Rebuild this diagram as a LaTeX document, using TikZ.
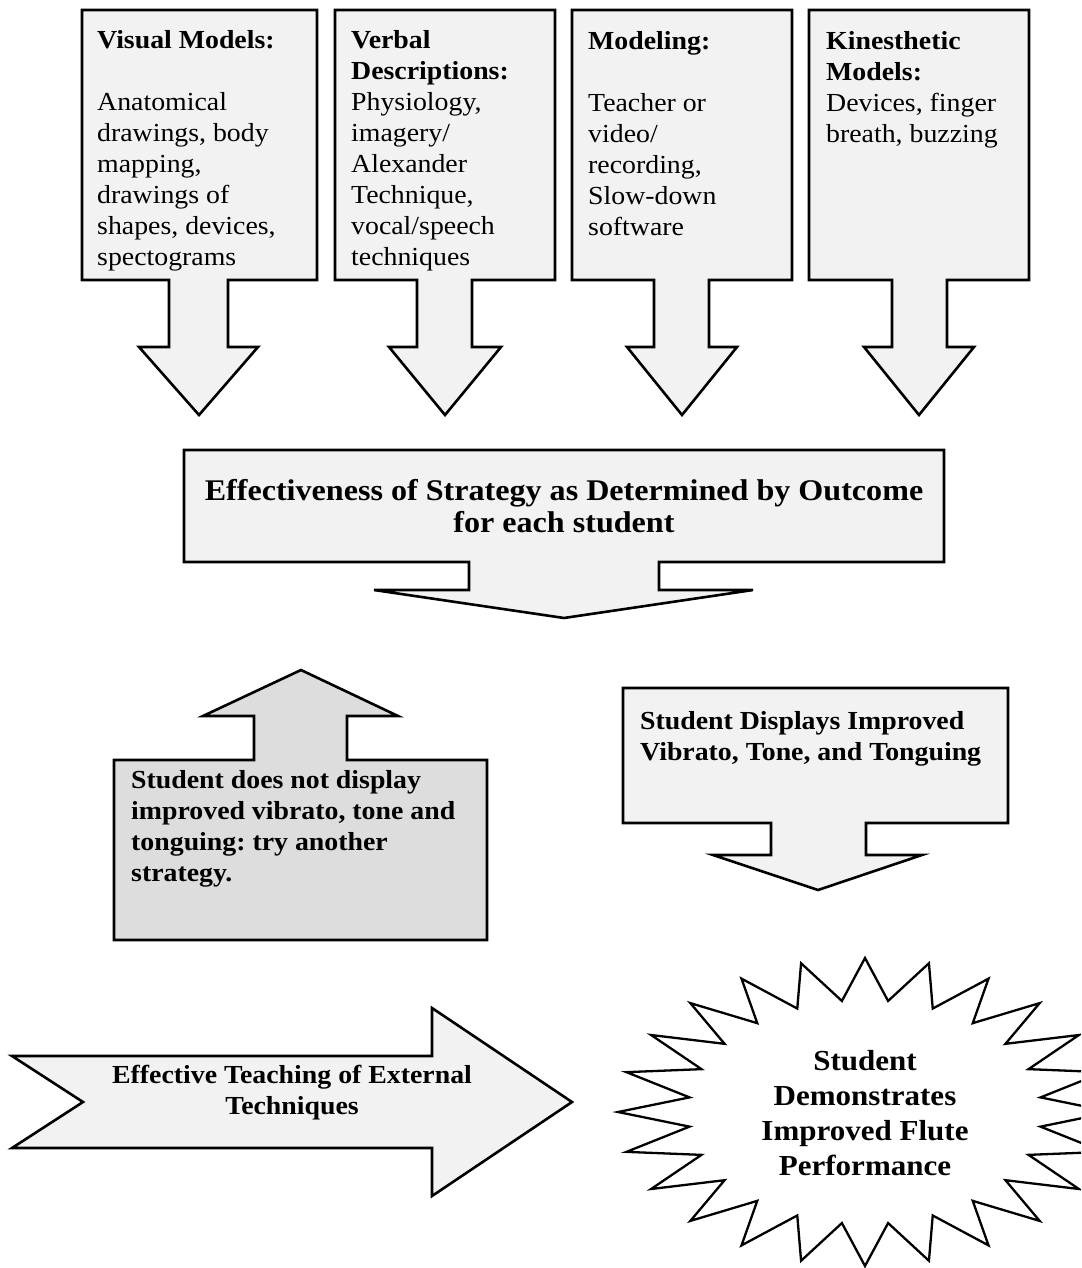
\documentclass[tikz,border=0pt]{standalone}
\usepackage{fontspec}
\setmainfont{Liberation Serif}[FakeStretch=1.07]
\frenchspacing
\definecolor{lightfill}{HTML}{F2F2F2}
\definecolor{darkfill}{HTML}{DDDDDD}
\tikzset{
  callout/.style={draw=black, line width=2.6pt, fill=lightfill, line join=miter},
  darkcallout/.style={callout, fill=darkfill},
  burst/.style={draw=black, line width=2.3pt, fill=white, line join=miter},
  bodytext/.style={inner sep=0pt, anchor=base west, font=\fontsize{26}{31}\selectfont},
  ctext/.style={inner sep=0pt, align=center, font=\bfseries\fontsize{26}{31}\selectfont},
}
\begin{document}
\begin{tikzpicture}[x=1pt, y=-1pt]
\useasboundingbox (0,0) rectangle (1081,1268);
\clip (0,0) rectangle (1081,1268);

% ---- top four callouts ----
\draw[callout] (82,10) -- (317,10) -- (317,280) -- (228,280) -- (228,347) -- (258,347)
  -- (199,415) -- (139,347) -- (169,347) -- (169,280) -- (82,280) -- cycle;
\draw[callout] (335,10) -- (555,10) -- (555,280) -- (472,280) -- (472,347) -- (501,347)
  -- (445,415) -- (389,347) -- (417,347) -- (417,280) -- (335,280) -- cycle;
\draw[callout] (572,10) -- (792,10) -- (792,280) -- (709,280) -- (709,347) -- (737,347)
  -- (682,415) -- (627,347) -- (654,347) -- (654,280) -- (572,280) -- cycle;
\draw[callout] (809,10) -- (1029,10) -- (1029,280) -- (947,280) -- (947,347) -- (974,347)
  -- (919,415) -- (864,347) -- (892,347) -- (892,280) -- (809,280) -- cycle;

\node[bodytext] (visual) at (97,49) {\parbox[t]{215pt}{\raggedright
  \textbf{Visual Models:}\\[31pt]
  Anatomical\\drawings, body\\mapping,\\drawings of\\shapes, devices,\\spectograms}};
\node[bodytext] (verbal) at (351,49) {\parbox[t]{200pt}{\raggedright
  \textbf{Verbal}\\\textbf{Descriptions:}\\
  Physiology,\\imagery/\\Alexander\\Technique,\\vocal/speech\\techniques}};
\node[bodytext] (modeling) at (588,50) {\parbox[t]{200pt}{\raggedright
  \textbf{Modeling:}\\[31pt]
  Teacher or\\video/\\recording,\\Slow-down\\software}};
\node[bodytext] (kinesthetic) at (826,50) {\parbox[t]{200pt}{\raggedright
  \textbf{Kinesthetic}\\\textbf{Models:}\\
  Devices, finger\\breath, buzzing}};

% ---- effectiveness callout ----
\draw[callout] (184,450) -- (944,450) -- (944,562) -- (659,562) -- (659,590) -- (753,590)
  -- (564,618) -- (374,590) -- (469,590) -- (469,562) -- (184,562) -- cycle;
\node[ctext, font=\bfseries\fontsize{30}{32}\selectfont] (effect) at (564,506)
  {Effectiveness of Strategy as Determined by Outcome\\for each student};

% ---- up-arrow callout (dark) ----
\draw[darkcallout] (114,760) -- (254,760) -- (254,716) -- (203,716) -- (301,670)
  -- (398,716) -- (347,716) -- (347,760) -- (487,760) -- (487,940) -- (114,940) -- cycle;
\node[bodytext, font=\bfseries\fontsize{26}{31}\selectfont] (notimproved) at (131,788)
  {\parbox[t]{350pt}{\raggedright
  Student does not display\\improved vibrato, tone and\\tonguing: try another\\strategy.}};

% ---- right down callout ----
\draw[callout] (623,688) -- (1008,688) -- (1008,823) -- (866,823) -- (866,855) -- (922,855)
  -- (818,890) -- (713,855) -- (771,855) -- (771,823) -- (623,823) -- cycle;
\node[bodytext, font=\bfseries\fontsize{26}{31}\selectfont] (improved) at (640,729)
  {\parbox[t]{360pt}{\raggedright
  Student Displays Improved\\Vibrato, Tone, and Tonguing}};

% ---- bottom right arrow ----
\draw[callout] (12,1056) -- (432,1056) -- (432,1008) -- (572,1102) -- (432,1196)
  -- (432,1148) -- (12,1148) -- (83,1102) -- cycle;
\node[ctext] (external) at (292,1093) {Effective Teaching of External\\Techniques};

% ---- starburst ----
\begin{scope}[shift={(865,1112)}]
  \draw[burst] (90:247 and 154)
    \foreach \k in {0,...,23} { -- ({97.5+15*\k}:177 and 112) -- ({105+15*\k}:247 and 154) }
    -- cycle;
\end{scope}
\node[ctext, font=\bfseries\fontsize{29}{35}\selectfont] (flute) at (865,1113)
  {Student\\Demonstrates\\Improved Flute\\Performance};
\end{tikzpicture}
\end{document}
